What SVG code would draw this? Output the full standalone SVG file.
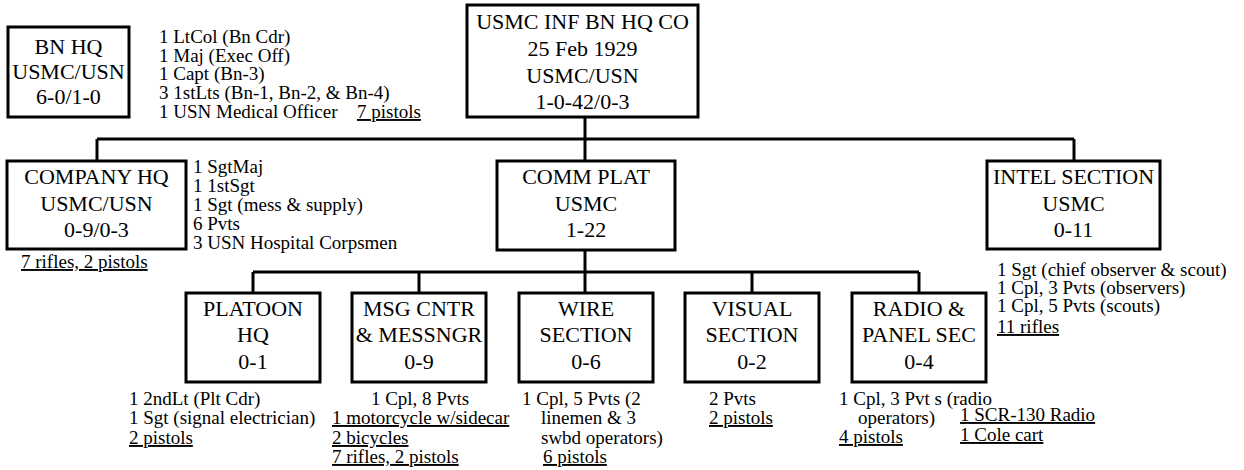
<svg xmlns="http://www.w3.org/2000/svg" width="1244" height="470" viewBox="0 0 1244 470" font-family="'Liberation Serif', 'DejaVu Serif', serif">
<style>
text{font-family:"Liberation Serif","DejaVu Serif",serif;fill:#000}
.b{font-size:22px;text-anchor:middle}
.n{font-size:19px}
.u{text-decoration:underline}
.box{fill:#fff;stroke:#000;stroke-width:3}
.c{fill:none;stroke:#000;stroke-width:3}
</style>
<rect width="1244" height="470" fill="#fff"/>
<g id="connectors">
<path class="c" d="M585 117V161"/>
<path class="c" d="M97 139H1074"/>
<path class="c" d="M97 139V161"/>
<path class="c" d="M1074 139V161"/>
<path class="c" d="M585 250V293"/>
<path class="c" d="M253 272H919"/>
<path class="c" d="M253 272V293"/>
<path class="c" d="M419 272V293"/>
<path class="c" d="M752 272V293"/>
<path class="c" d="M919 272V293"/>
</g>
<g id="bn-hq">
<rect class="box" x="8" y="27" width="121" height="90"/>
<text class="b" x="68.5" y="54">BN HQ</text>
<text class="b" x="68.5" y="79">USMC/USN</text>
<text class="b" x="68.5" y="104">6-0/1-0</text>
<text class="n" x="159" y="43">1 LtCol (Bn Cdr)</text>
<text class="n" x="159" y="62">1 Maj (Exec Off)</text>
<text class="n" x="159" y="80">1 Capt (Bn-3)</text>
<text class="n" x="159" y="99">3 1stLts (Bn-1, Bn-2, &amp; Bn-4)</text>
<text class="n" x="159" y="118">1 USN Medical Officer</text>
<text class="n u" x="357" y="118">7 pistols</text>
</g>
<g id="hq-co">
<rect class="box" x="467" y="5" width="231" height="112"/>
<text class="b" x="582.5" y="29">USMC INF BN HQ CO</text>
<text class="b" x="582.5" y="56">25 Feb 1929</text>
<text class="b" x="582.5" y="83">USMC/USN</text>
<text class="b" x="582.5" y="109">1-0-42/0-3</text>
</g>
<g id="company-hq">
<rect class="box" x="7" y="161" width="179" height="88"/>
<text class="b" x="96.5" y="184">COMPANY HQ</text>
<text class="b" x="96.5" y="211">USMC/USN</text>
<text class="b" x="96.5" y="237">0-9/0-3</text>
<text class="n" x="193" y="173">1 SgtMaj</text>
<text class="n" x="193" y="192">1 1stSgt</text>
<text class="n" x="193" y="211">1 Sgt (mess &amp; supply)</text>
<text class="n" x="193" y="230">6 Pvts</text>
<text class="n" x="193" y="249">3 USN Hospital Corpsmen</text>
<text class="n u" x="21" y="268">7 rifles, 2 pistols</text>
</g>
<g id="comm-plat">
<rect class="box" x="497" y="161" width="178" height="89"/>
<text class="b" x="586" y="184">COMM PLAT</text>
<text class="b" x="586" y="211">USMC</text>
<text class="b" x="586" y="237">1-22</text>
</g>
<g id="intel-section">
<rect class="box" x="987" y="161" width="173" height="88"/>
<text class="b" x="1073.5" y="184">INTEL SECTION</text>
<text class="b" x="1073.5" y="211">USMC</text>
<text class="b" x="1073.5" y="237">0-11</text>
<text class="n" x="997" y="276">1 Sgt (chief observer &amp; scout)</text>
<text class="n" x="997" y="294">1 Cpl, 3 Pvts (observers)</text>
<text class="n" x="997" y="312">1 Cpl, 5 Pvts (scouts)</text>
<text class="n u" x="997" y="333">11 rifles</text>
</g>
<g id="platoon-hq">
<rect class="box" x="186" y="293" width="134" height="89"/>
<text class="b" x="253" y="316">PLATOON</text>
<text class="b" x="253" y="342">HQ</text>
<text class="b" x="253" y="369">0-1</text>
<text class="n" x="129" y="405">1 2ndLt (Plt Cdr)</text>
<text class="n" x="129" y="424">1 Sgt (signal electrician)</text>
<text class="n u" x="129" y="444">2 pistols</text>
</g>
<g id="msg-cntr">
<rect class="box" x="352" y="293" width="134" height="89"/>
<text class="b" x="419" y="316">MSG CNTR</text>
<text class="b" x="419" y="342">&amp; MESSNGR</text>
<text class="b" x="419" y="369">0-9</text>
<text class="n" x="420" y="405" text-anchor="middle">1 Cpl, 8 Pvts</text>
<text class="n u" x="332" y="424">1 motorcycle w/sidecar</text>
<text class="n u" x="332" y="444">2 bicycles</text>
<text class="n u" x="332" y="463">7 rifles, 2 pistols</text>
</g>
<g id="wire-section">
<rect class="box" x="519" y="293" width="134" height="89"/>
<text class="b" x="586" y="316">WIRE</text>
<text class="b" x="586" y="342">SECTION</text>
<text class="b" x="586" y="369">0-6</text>
<text class="n" x="522" y="405">1 Cpl, 5 Pvts (2</text>
<text class="n" x="541" y="424">linemen &amp; 3</text>
<text class="n" x="541" y="444">swbd operators)</text>
<text class="n u" x="543" y="463">6 pistols</text>
</g>
<g id="visual-section">
<rect class="box" x="685" y="293" width="134" height="89"/>
<text class="b" x="752" y="316">VISUAL</text>
<text class="b" x="752" y="342">SECTION</text>
<text class="b" x="752" y="369">0-2</text>
<text class="n" x="709" y="405">2 Pvts</text>
<text class="n u" x="709" y="424">2 pistols</text>
</g>
<g id="radio-panel">
<rect class="box" x="852" y="293" width="134" height="89"/>
<text class="b" x="919" y="316">RADIO &amp;</text>
<text class="b" x="919" y="342">PANEL SEC</text>
<text class="b" x="919" y="369">0-4</text>
<text class="n" x="839" y="405">1 Cpl, 3 Pvt s (radio</text>
<text class="n" x="858" y="424">operators)</text>
<text class="n u" x="839" y="443">4 pistols</text>
<text class="n u" x="960" y="421">1 SCR-130 Radio</text>
<text class="n u" x="960" y="441">1 Cole cart</text>
</g>
</svg>
